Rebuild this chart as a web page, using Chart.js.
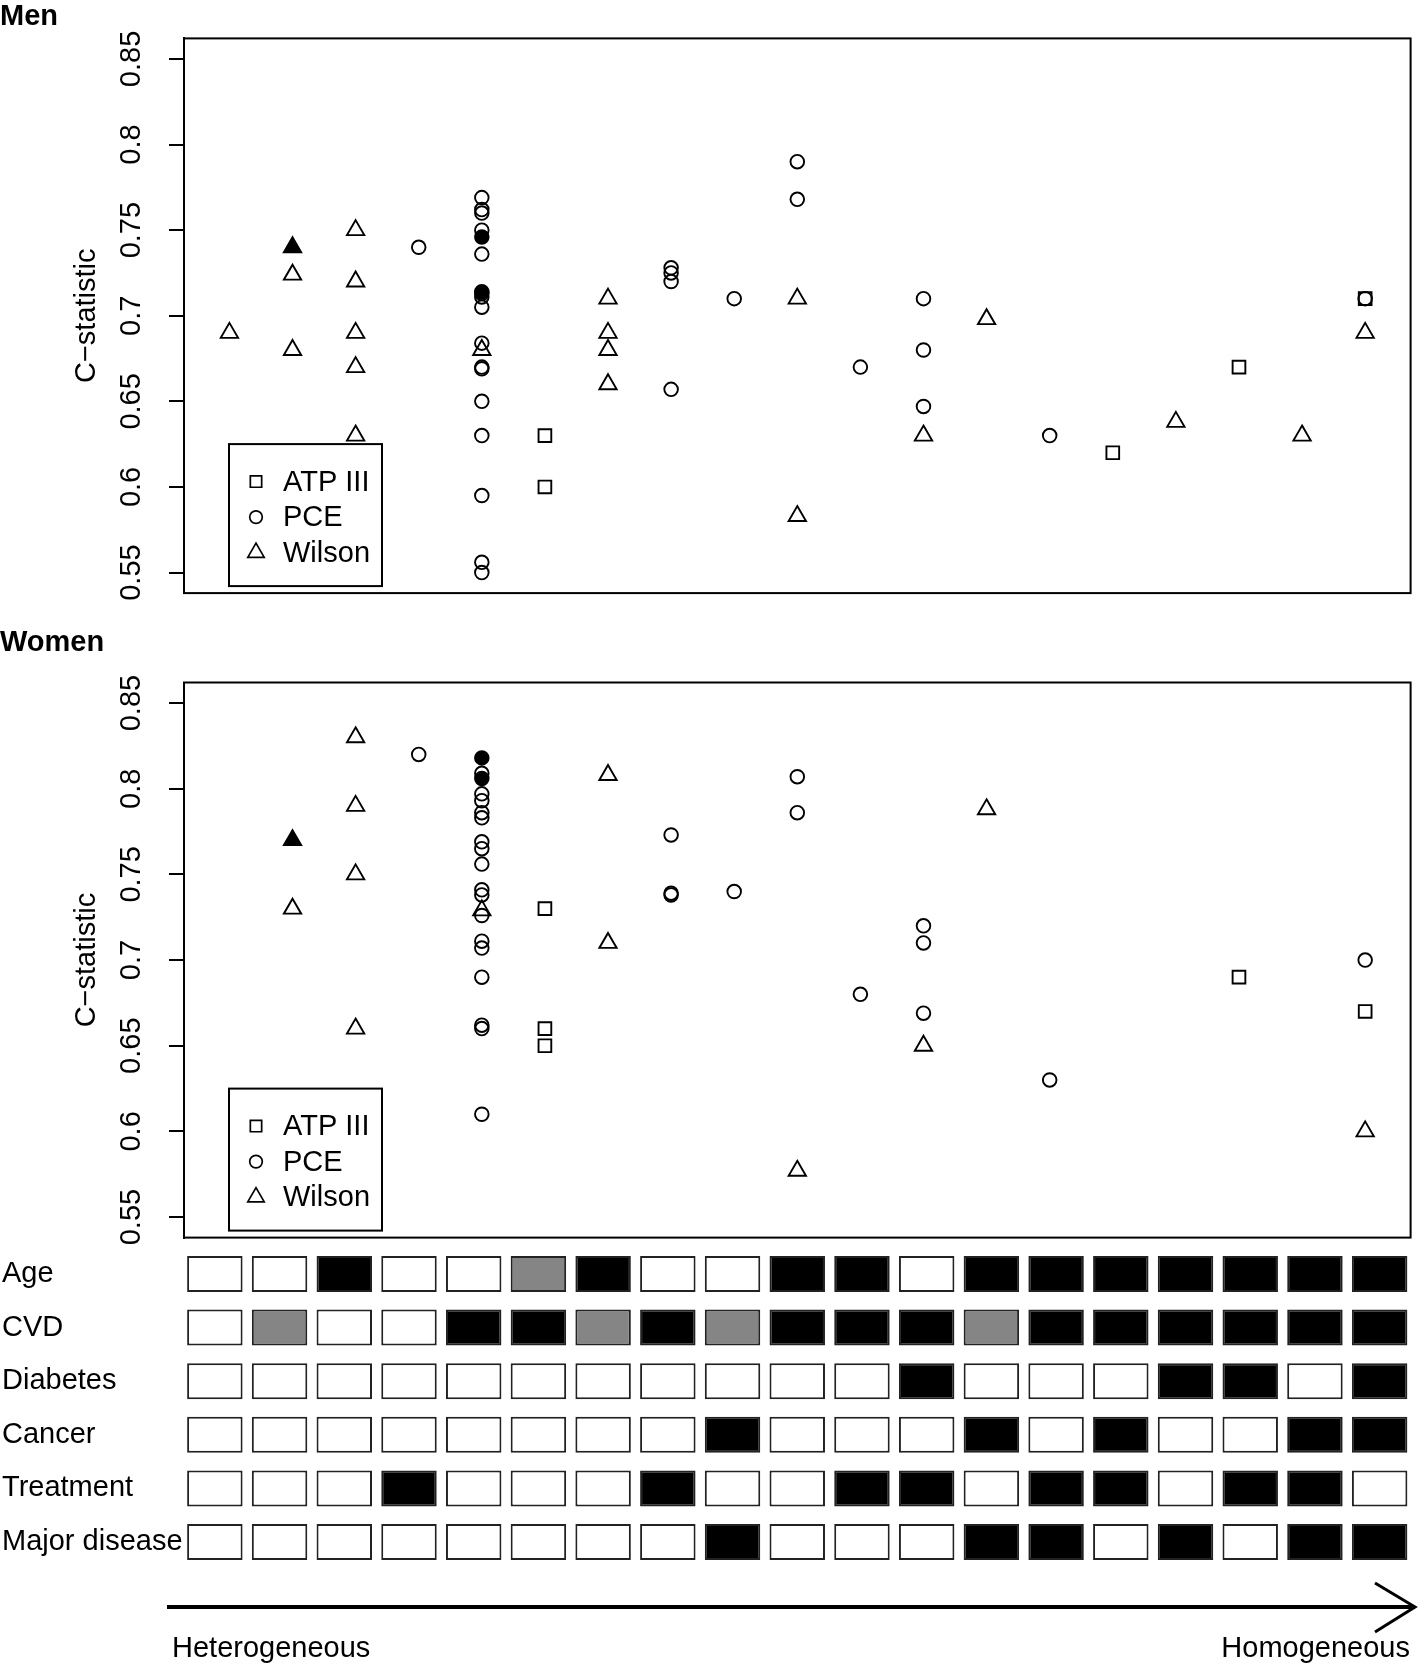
<!DOCTYPE html>
<html>
<head>
<meta charset="utf-8">
<script src="https://cdn.jsdelivr.net/npm/chart.js@4.4.0/dist/chart.umd.min.js"></script>
<style>
html, body { margin:0; padding:0; background:#fff; }
#wrap { position:relative; width:1418px; height:1665px; }
canvas { position:absolute; left:0; }
</style>
</head>
<body>
<div id="wrap">
<canvas id="menChart" width="1418" height="620" style="top:0"></canvas>
<canvas id="womenChart" width="1418" height="625" style="top:620px"></canvas>
<canvas id="gridChart" width="1418" height="420" style="top:1245px"></canvas>
</div>
<script>
const FONT = '"Liberation Sans", Arial, Helvetica, sans-serif';

// study groups, ordered heterogeneous -> homogeneous
const groups = [1,2,3,4,5,6,7,8,9,10,11,12,13,14,15,16,17,18,19];
const yTicks = [0.55, 0.6, 0.65, 0.7, 0.75, 0.8, 0.85];
const seriesNames = ['ATP III', 'PCE', 'Wilson'];

// [group, C-statistic]
const menATP = [[6,0.63],[6,0.60],[15,0.62],[17,0.67],[19,0.71]];
const menPCE = [[4,0.74],
  [5,0.769],[5,0.762],[5,0.760],[5,0.750],[5,0.736],[5,0.713],[5,0.711],[5,0.705],[5,0.684],
  [5,0.670],[5,0.669],[5,0.650],[5,0.630],[5,0.595],[5,0.556],[5,0.550],
  [8,0.728],[8,0.725],[8,0.720],[8,0.657],[9,0.71],[10,0.79],[10,0.768],[11,0.67],
  [12,0.71],[12,0.68],[12,0.647],[14,0.63],[19,0.71]];
const menPCEfilled = [[5,0.746],[5,0.714]];
const menWilson = [[1,0.69],[2,0.724],[2,0.68],[3,0.75],[3,0.72],[3,0.69],[3,0.67],[3,0.63],
  [5,0.68],[7,0.71],[7,0.69],[7,0.68],[7,0.66],[10,0.71],[10,0.583],[12,0.63],[13,0.698],
  [16,0.638],[18,0.63],[19,0.69]];
const menWilsonFilled = [[2,0.74]];

const womenATP = [[6,0.73],[6,0.66],[6,0.65],[17,0.69],[19,0.67]];
const womenPCE = [[4,0.82],
  [5,0.809],[5,0.797],[5,0.793],[5,0.786],[5,0.783],[5,0.769],[5,0.765],[5,0.756],[5,0.741],
  [5,0.738],[5,0.726],[5,0.711],[5,0.707],[5,0.69],[5,0.662],[5,0.66],[5,0.61],
  [8,0.773],[8,0.739],[8,0.738],[9,0.74],[10,0.807],[10,0.786],[11,0.68],
  [12,0.72],[12,0.71],[12,0.669],[14,0.63],[19,0.70]];
const womenPCEfilled = [[5,0.818],[5,0.806]];
const womenWilson = [[2,0.73],[3,0.83],[3,0.79],[3,0.75],[3,0.66],[5,0.729],[7,0.808],[7,0.71],
  [10,0.577],[12,0.65],[13,0.788],[19,0.60]];
const womenWilsonFilled = [[2,0.77]];

// cohort characteristics: 0 = no, 1 = partly, 2 = yes
const rowNames = ['Age','CVD','Diabetes','Cancer','Treatment','Major disease'];
const ageRow       = [0,0,2,0,0,1,2,0,0,2,2,0,2,2,2,2,2,2,2];
const cvdRow       = [0,1,0,0,2,2,1,2,1,2,2,2,1,2,2,2,2,2,2];
const diabetesRow  = [0,0,0,0,0,0,0,0,0,0,0,2,0,0,0,2,2,0,2];
const cancerRow    = [0,0,0,0,0,0,0,0,2,0,0,0,2,0,2,0,0,2,2];
const treatmentRow = [0,0,0,2,0,0,0,2,0,0,2,2,0,2,2,0,2,2,0];
const majorRow     = [0,0,0,0,0,0,0,0,2,0,0,0,2,2,0,2,0,2,2];

const shade = ['#ffffff', '#858585', '#000000'];
const markers = { rect: 9, circle: 6.8, triangle: 10 };
const legendStyles = ['rect', 'circle', 'triangle'];
const legendSize = { rect: 8, circle: 6.3, triangle: 9.5 };

function ds(arr, style, filled) {
  return {
    data: arr.map(p => ({x: p[0], y: p[1]})),
    pointStyle: style,
    pointRadius: markers[style],
    pointHoverRadius: markers[style],
    pointBorderWidth: 1.9,
    pointBorderColor: '#000',
    pointBackgroundColor: filled ? '#000' : 'rgba(0,0,0,0)',
    showLine: false
  };
}

// keep the axis from shrinking the plot for its end labels
function fixWidth(w) {
  return s => { s.width = w; s.paddingTop = 0; s.paddingBottom = 0; };
}

const framePlugin = {
  id: 'frameLegend',
  afterDraw(chart) {
    const {ctx, chartArea: a} = chart;
    ctx.save();
    ctx.strokeStyle = '#000';
    ctx.lineWidth = 2;
    ctx.strokeRect(a.left, a.top, a.right - a.left, a.bottom - a.top);
    const bw = 153, bh = 142;
    const bx = a.left + 45, by = a.bottom - 7 - bh;
    ctx.strokeRect(bx, by, bw, bh);
    ctx.font = '29px ' + FONT;
    ctx.textBaseline = 'middle';
    ctx.textAlign = 'left';
    seriesNames.forEach((name, i) => {
      const y = by + 37.5 + i * 35.5;
      ctx.fillStyle = 'rgba(0,0,0,0)';
      ctx.strokeStyle = '#000';
      ctx.lineWidth = 1.7;
      Chart.helpers.drawPoint(ctx, {pointStyle: legendStyles[i], radius: legendSize[legendStyles[i]], borderWidth: 1.7, rotation: 0}, bx + 27, y);
      ctx.fillStyle = '#000';
      ctx.fillText(name, bx + 54, y + 1);
    });
    ctx.restore();
  }
};

function scatterChart(id, title, titlePad, bottomPad, sets) {
  new Chart(document.getElementById(id), {
    type: 'scatter',
    data: { datasets: sets },
    options: {
      responsive: false, animation: false, events: [], devicePixelRatio: 1,
      layout: { autoPadding: false, padding: { left: 0, right: 7.4, top: 0, bottom: bottomPad } },
      plugins: {
        legend: { display: false },
        tooltip: { enabled: false },
        title: { display: true, text: title, align: 'start', color: '#000',
          font: { size: 29, weight: 'bold', family: FONT }, padding: titlePad }
      },
      scales: {
        x: { type: 'linear', min: 0.28, max: 19.72, display: false },
        y: {
          type: 'linear', min: 0.538, max: 0.862,
          afterFit: fixWidth(184),
          afterBuildTicks: s => { s.ticks = yTicks.map(v => ({value: v})); },
          ticks: { minRotation: 90, maxRotation: 90, crossAlign: 'center', padding: 9, autoSkip: false,
            color: '#000', font: { size: 29, family: FONT }, callback: v => String(+v.toFixed(2)) },
          grid: { display: true, drawOnChartArea: false, drawTicks: true, tickLength: 15, color: '#000', lineWidth: 2 },
          border: { display: true, color: '#000', width: 2 },
          title: { display: true, text: 'C\u2212statistic', color: '#000',
            font: { size: 29, family: FONT }, padding: { top: 69.6, bottom: 0 } }
        }
      }
    },
    plugins: [framePlugin]
  });
}

scatterChart('menChart', 'Men', {top: 0, bottom: 3.6}, 26.9, [
  ds(menPCEfilled, 'circle', true), ds(menWilsonFilled, 'triangle', true),
  ds(menATP, 'rect', false), ds(menPCE, 'circle', false), ds(menWilson, 'triangle', false)
]);
scatterChart('womenChart', 'Women', {top: 6, bottom: 21.7}, 7.4, [
  ds(womenPCEfilled, 'circle', true), ds(womenWilsonFilled, 'triangle', true),
  ds(womenATP, 'rect', false), ds(womenPCE, 'circle', false), ds(womenWilson, 'triangle', false)
]);

const arrowPlugin = {
  id: 'arrow',
  afterDraw(chart) {
    const ctx = chart.ctx;
    ctx.save();
    ctx.strokeStyle = '#000';
    ctx.lineWidth = 4;
    ctx.beginPath();
    ctx.moveTo(167, 362);
    ctx.lineTo(1412, 362);
    ctx.stroke();
    ctx.lineWidth = 3;
    ctx.beginPath();
    ctx.moveTo(1375, 338);
    ctx.lineTo(1415, 362);
    ctx.lineTo(1375, 387);
    ctx.stroke();
    ctx.fillStyle = '#000';
    ctx.font = '29px ' + FONT;
    ctx.textBaseline = 'alphabetic';
    ctx.textAlign = 'left';
    ctx.fillText('Heterogeneous', 172, 412);
    ctx.textAlign = 'right';
    ctx.fillText('Homogeneous', 1410, 412);
    ctx.restore();
  }
};

const rows = [ageRow, cvdRow, diabetesRow, cancerRow, treatmentRow, majorRow];
new Chart(document.getElementById('gridChart'), {
  type: 'bar',
  data: {
    labels: groups,
    datasets: rows.map((codes, i) => ({
      data: codes.map(() => [i - 0.336, i + 0.336]),
      backgroundColor: codes.map(c => shade[c]),
      borderColor: '#222',
      borderWidth: 2,
      borderSkipped: false,
      barPercentage: 0.857,
      categoryPercentage: 1
    }))
  },
  options: {
    responsive: false, animation: false, events: [], devicePixelRatio: 1,
    layout: { autoPadding: false, padding: { left: 2, right: 6, top: 2.2, bottom: 96.2 } },
    plugins: { legend: { display: false }, tooltip: { enabled: false } },
    scales: {
      x: { type: 'category', stacked: true, display: false },
      y: {
        type: 'linear', min: -0.5, max: 5.5, reverse: true,
        afterFit: fixWidth(180.5),
        afterBuildTicks: s => { s.ticks = rowNames.map((n, i) => ({value: i})); },
        ticks: { crossAlign: 'far', autoSkip: false, color: '#000', font: { size: 29, family: FONT },
          callback: v => rowNames[v] },
        grid: { display: false },
        border: { display: false }
      }
    }
  },
  plugins: [arrowPlugin]
});
</script>
</body>
</html>
